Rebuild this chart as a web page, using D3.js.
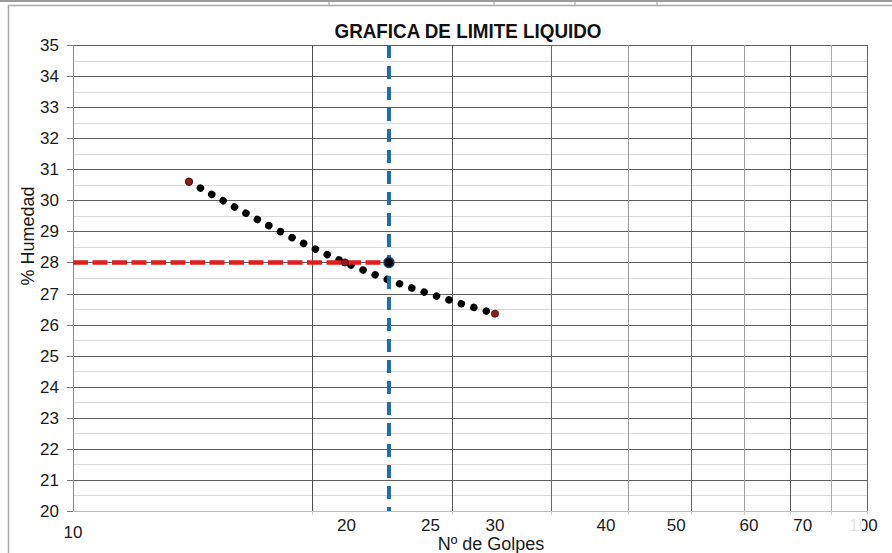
<!DOCTYPE html>
<html><head><meta charset="utf-8">
<script src="https://cdn.jsdelivr.net/npm/d3@7"></script>
<style>body{margin:0;background:#fff}svg{display:block;font-family:"Liberation Sans",Arial,sans-serif}</style>
</head><body><svg width="892" height="553"></svg>
<script>
// ---- data ----
const golpes = [14, 22, 34];
const humedad = [30.6, 28.0, 26.35];
const limiteGolpes = 25;
const limiteHumedad = 28.0;
const yTicks = [20,21,22,23,24,25,26,27,28,29,30,31,32,33,34,35];
const xGridValues = [20,30,40,50,60,70,80,90,100];
const xTickLabels = ["10","20","25","30","40","50","60","70","100"];
const xLabelAnchors = [10, 22.1, 28.2, 34.0, 46.9, 57.5, 71.0, 83.0, 99.0];

const svg = d3.select("svg");
const W = 892, H = 553;
const x = d3.scaleLog().domain([10, 100]).range([73, 867]);
const y = d3.scaleLinear().domain([20, 35]).range([511, 45]);

// spreadsheet frame around the chart
svg.append("line").attr("x1",0).attr("x2",W).attr("y1",1).attr("y2",1).attr("stroke","#9a9a9a").attr("stroke-width",2);
[329,494,575,657].forEach(v=>svg.append("line").attr("x1",v).attr("x2",v).attr("y1",0).attr("y2",5).attr("stroke","#9a9a9a"));
svg.append("line").attr("x1",8).attr("x2",W).attr("y1",5.5).attr("y2",5.5).attr("stroke","#a8a8a8").attr("stroke-width",1.5);
svg.append("line").attr("x1",8.5).attr("x2",8.5).attr("y1",5).attr("y2",H).attr("stroke","#a8a8a8").attr("stroke-width",1.5);

// title
svg.append("text").attr("x",468).attr("y",38).attr("text-anchor","middle")
  .attr("font-size",21).attr("font-weight","bold").attr("fill","#111")
  .attr("textLength",267).attr("lengthAdjust","spacingAndGlyphs").text("GRAFICA DE LIMITE LIQUIDO");

const g = svg.append("g");
// minor horizontal grid (half units)
d3.range(20.5, 35, 1).forEach(v=>{
  g.append("line").attr("x1",x(10)).attr("x2",x(100)).attr("y1",Math.round(y(v))+0.5).attr("y2",Math.round(y(v))+0.5)
   .attr("stroke","#d9d9d9").attr("stroke-width",1);
});
// major horizontal grid
yTicks.filter(v=>v>20).forEach(v=>{
  g.append("line").attr("x1",x(10)).attr("x2",x(100)).attr("y1",Math.round(y(v))+0.5).attr("y2",Math.round(y(v))+0.5)
   .attr("stroke","#5f5f5f").attr("stroke-width",1);
});
// vertical grid
const vCol = {20:"#4d4d4d",30:"#555",40:"#666",50:"#9a9a9a",60:"#666",70:"#a0a0a0",80:"#555",90:"#aaa",100:"#666"};
xGridValues.forEach(v=>{
  g.append("line").attr("x1",Math.round(x(v))+0.5).attr("x2",Math.round(x(v))+0.5).attr("y1",y(35)).attr("y2",y(20))
   .attr("stroke",vCol[v]).attr("stroke-width",1);
});
// axes lines
g.append("line").attr("x1",x(10)+0.5).attr("x2",x(10)+0.5).attr("y1",y(35)).attr("y2",y(20)).attr("stroke","#8a8a8a");
g.append("line").attr("x1",x(10)).attr("x2",x(100)).attr("y1",Math.round(y(20))+0.5).attr("y2",Math.round(y(20))+0.5).attr("stroke","#bdbdbd");
// y ticks
yTicks.forEach(v=>{
  g.append("line").attr("x1",x(10)-6).attr("x2",x(10)).attr("y1",Math.round(y(v))+0.5).attr("y2",Math.round(y(v))+0.5).attr("stroke","#777");
  g.append("text").attr("x",59).attr("y",y(v)+6).attr("text-anchor","end").attr("font-size",17).attr("fill","#1a1a1a").text(v);
});
// small x ticks at bottom
xGridValues.forEach(v=>{
  g.append("line").attr("x1",Math.round(x(v))+0.5).attr("x2",Math.round(x(v))+0.5).attr("y1",y(20)).attr("y2",y(20)+4).attr("stroke","#ccc");
});
// x tick labels (manually placed text boxes in the original)
xTickLabels.forEach((t,i)=>{
  const ty = i===0 ? 537.5 : 530.5;
  g.append("text").attr("x",x(xLabelAnchors[i])).attr("y",ty).attr("text-anchor","middle")
   .attr("font-size",17).attr("fill","#1a1a1a").text(t);
});
// partially hidden "100" label
g.append("rect").attr("x",846).attr("y",515).attr("width",16).attr("height",19).attr("fill","#fff").attr("opacity",0.88);

// axis titles
svg.append("text").attr("transform","translate(34,236) rotate(-90)").attr("text-anchor","middle")
  .attr("font-size",18).attr("fill","#1a1a1a").text("% Humedad");
svg.append("text").attr("x",491).attr("y",550).attr("text-anchor","middle")
  .attr("font-size",18).attr("fill","#1a1a1a").text("Nº de Golpes");

// trend line (dotted) through the data points
const pts = golpes.map((d,i)=>[x(d), y(humedad[i])]);
svg.append("path").attr("d", d3.line().curve(d3.curveNatural)(pts))
  .attr("fill","none").attr("stroke","#000").attr("stroke-width",7.5)
  .attr("stroke-linecap","round").attr("stroke-dasharray","0.01 13");

// limit lines
svg.append("line").attr("x1",x(10)).attr("x2",x(limiteGolpes)).attr("y1",y(limiteHumedad)).attr("y2",y(limiteHumedad))
  .attr("stroke","#e11d1d").attr("stroke-width",4.5).attr("stroke-dasharray","15 4.5");
svg.append("line").attr("x1",x(limiteGolpes)).attr("x2",x(limiteGolpes)).attr("y1",y(35)).attr("y2",y(20))
  .attr("stroke","#1f6db0").attr("stroke-width",4).attr("stroke-dasharray","13 8");

// data points
svg.selectAll("circle.pt").data(golpes).enter().append("circle").attr("class","pt")
  .attr("cx",d=>x(d)).attr("cy",(d,i)=>y(humedad[i])).attr("r",3.6)
  .attr("fill","#8e1c1c").attr("stroke","#3a0a0a").attr("stroke-width",0.8);
// limit point
svg.append("circle").attr("cx",x(limiteGolpes)).attr("cy",y(limiteHumedad)).attr("r",5)
  .attr("fill","#000").attr("stroke","#1b3f73").attr("stroke-width",1.5);
</script></body></html>
